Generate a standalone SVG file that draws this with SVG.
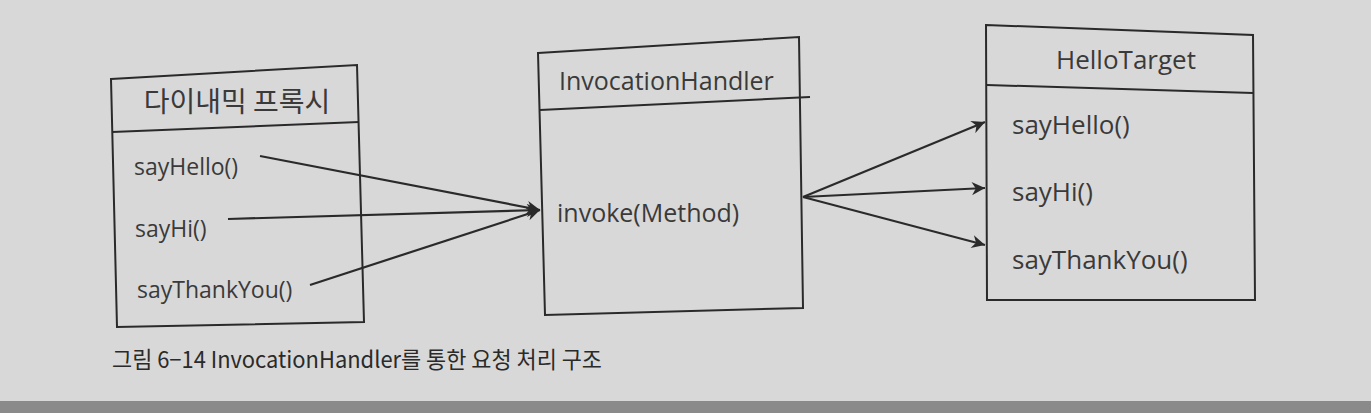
<svg xmlns="http://www.w3.org/2000/svg" width="1371" height="413" viewBox="0 0 1371 413">
<style>
.box{fill:none;stroke:#2a2a2a;stroke-width:2}
.t{font-family:"Open Sans","Noto Sans","Noto Sans CJK KR",sans-serif;font-size:23px;fill:#3a3a3a}
.m{font-size:25px}
.r{font-size:26px}
.k{font-family:"Noto Sans CJK KR","Noto Sans",sans-serif;font-size:28px;fill:#3a3a3a}
.cap{font-family:"Noto Sans CJK KR","Noto Sans",sans-serif;font-size:23px;fill:#2a2a2a}
.c{fill:none;stroke:#2a2a2a;stroke-width:2.2}
</style>
<defs>
<marker id="ah" viewBox="0 0 10 10" refX="10" refY="5" markerWidth="7" markerHeight="6" markerUnits="strokeWidth" orient="auto">
<path d="M0,0 L10,5 L0,10 L3,5 Z" fill="#2a2a2a"/>
</marker>
</defs>
<rect width="1371" height="413" fill="#d8d8d8"/>
<rect y="401" width="1371" height="12" fill="#8a8a8a"/>
<g id="proxy">
<path class="box" d="M111,79 L357,65 L364,322 L117,327 Z"/>
<path class="box" d="M112,132 L359,122"/>
<text class="k" x="237" y="112" text-anchor="middle">다이내믹 프록시</text>
<text class="t" x="134" y="175">sayHello()</text>
<text class="t" x="135" y="237">sayHi()</text>
<text class="t" x="137" y="298">sayThankYou()</text>
</g>
<g id="handler">
<path class="box" d="M538,53 L799,37 L803,308 L545,315 Z"/>
<path class="box" d="M540,110 L810,97"/>
<text class="t m" x="559" y="90">InvocationHandler</text>
<text class="t m" x="557" y="222">invoke(Method)</text>
</g>
<g id="target">
<path class="box" d="M986,25 L1253,35 L1255,300 L987,300 Z"/>
<path class="box" d="M987,85 L1253,93"/>
<text class="t r" x="1126" y="69" text-anchor="middle">HelloTarget</text>
<text class="t r" x="1012" y="134">sayHello()</text>
<text class="t r" x="1012" y="201">sayHi()</text>
<text class="t r" x="1012" y="269">sayThankYou()</text>
</g>
<g id="connectors">
<line class="c" x1="260" y1="156" x2="540" y2="210" marker-end="url(#ah)"/>
<line class="c" x1="228" y1="219" x2="540" y2="210" marker-end="url(#ah)"/>
<line class="c" x1="310" y1="285" x2="540" y2="210" marker-end="url(#ah)"/>
<line class="c" x1="803" y1="197" x2="985" y2="122" marker-end="url(#ah)"/>
<line class="c" x1="803" y1="197" x2="985" y2="188" marker-end="url(#ah)"/>
<line class="c" x1="803" y1="197" x2="985" y2="245" marker-end="url(#ah)"/>
</g>
<text class="cap" x="112" y="368" textLength="490" lengthAdjust="spacingAndGlyphs">그림 6−14 InvocationHandler를 통한 요청 처리 구조</text>
</svg>
